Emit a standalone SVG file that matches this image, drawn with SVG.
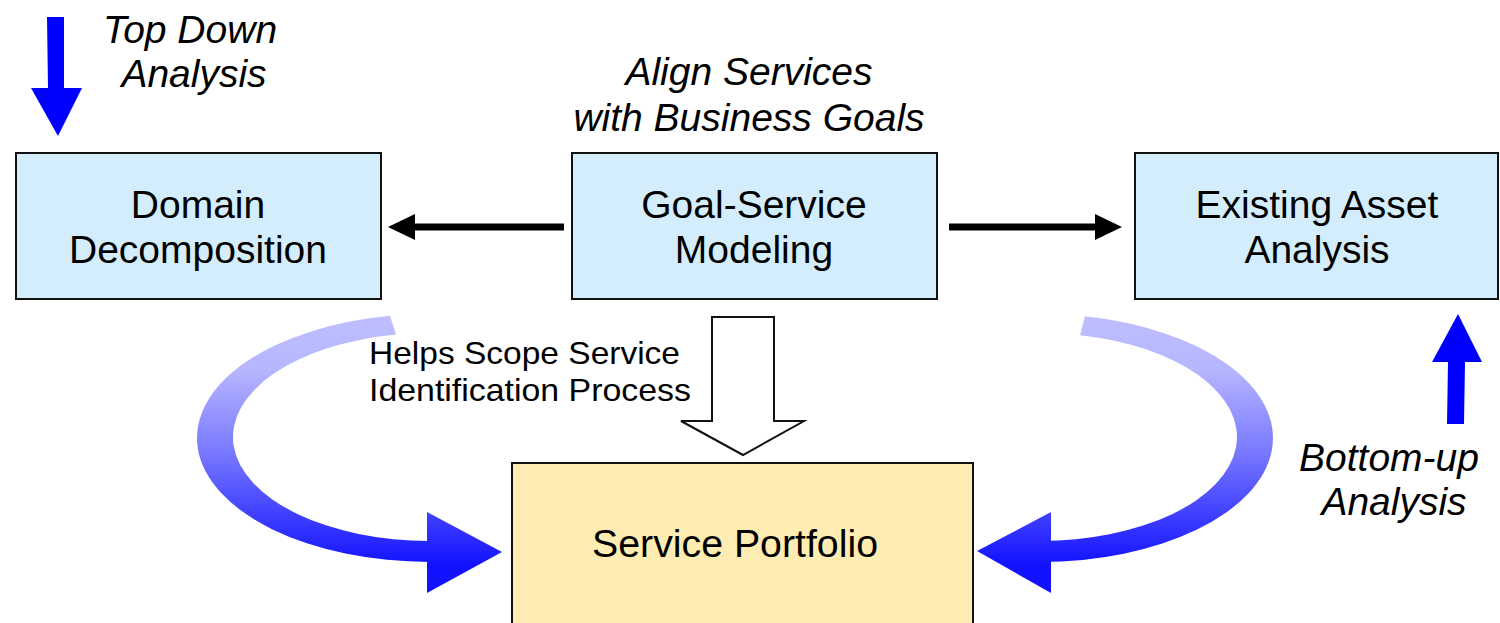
<svg xmlns="http://www.w3.org/2000/svg" width="1500" height="623" viewBox="0 0 1500 623">
  <style>
    .box { fill: #D3EDFD; stroke: #111; stroke-width: 2; }
    .portfolio { fill: #FEECB3; stroke: #111; stroke-width: 2; }
    .label { font-family: "Liberation Sans", Arial, sans-serif; font-size: 39px; fill: #000; text-anchor: middle; }
    .note { font-family: "Liberation Sans", Arial, sans-serif; font-size: 39px; font-style: italic; fill: #000; text-anchor: middle; }
    .small { font-family: "Liberation Sans", Arial, sans-serif; font-size: 32px; fill: #000; }
    .flow { fill: #000; }
    .solid-blue { fill: #0000FF; }
    .hollow { fill: #FFF; stroke: #111; stroke-width: 2; stroke-linejoin: miter; }
  </style>
  <defs>
    <linearGradient id="swirl" gradientUnits="userSpaceOnUse" x1="0" y1="315" x2="0" y2="565">
      <stop offset="0" stop-color="#BEBEFF"/>
      <stop offset="0.22" stop-color="#B6B6FF"/>
      <stop offset="0.55" stop-color="#7878FF"/>
      <stop offset="1" stop-color="#1212FF"/>
    </linearGradient>
  </defs>

  <rect width="1500" height="623" fill="#FFF"/>

  <!-- nodes -->
  <g id="domain-decomposition">
    <rect class="box" x="16" y="153" width="365" height="146"/>
    <text class="label" x="198" y="218">Domain</text>
    <text class="label" x="198" y="263">Decomposition</text>
  </g>
  <g id="goal-service-modeling">
    <rect class="box" x="572" y="153" width="365" height="146"/>
    <text class="label" x="754" y="218">Goal-Service</text>
    <text class="label" x="754" y="263">Modeling</text>
  </g>
  <g id="existing-asset-analysis">
    <rect class="box" x="1135" y="153" width="363" height="146"/>
    <text class="label" x="1317" y="218">Existing Asset</text>
    <text class="label" x="1317" y="263">Analysis</text>
  </g>
  <g id="service-portfolio">
    <rect class="portfolio" x="512" y="463" width="461" height="175"/>
    <text class="label" x="735" y="557" style="font-size:38px" textLength="286" lengthAdjust="spacingAndGlyphs">Service Portfolio</text>
  </g>

  <!-- side notes -->
  <g id="top-down-note">
    <text class="note" x="190" y="43">Top Down</text>
    <text class="note" x="194" y="87">Analysis</text>
  </g>
  <g id="align-note">
    <text class="note" x="749" y="85">Align Services</text>
    <text class="note" x="749" y="131">with Business Goals</text>
  </g>
  <g id="bottom-up-note">
    <text class="note" x="1389" y="471">Bottom-up</text>
    <text class="note" x="1394" y="515">Analysis</text>
  </g>
  <g id="scope-note">
    <text class="small" x="369" y="364" textLength="311" lengthAdjust="spacingAndGlyphs">Helps Scope Service</text>
    <text class="small" x="369" y="401" textLength="322" lengthAdjust="spacingAndGlyphs">Identification Process</text>
  </g>

  <!-- connectors -->
  <g id="connectors">
    <!-- goal modeling to domain decomposition -->
    <rect class="flow" x="412" y="223.5" width="152" height="7"/>
    <polygon class="flow" points="388,227 415,214 415,240"/>
    <!-- goal modeling to existing asset analysis -->
    <rect class="flow" x="949" y="223.5" width="149" height="7"/>
    <polygon class="flow" points="1122,227 1095,214 1095,240"/>
    <!-- scope arrow into the portfolio -->
    <polygon class="hollow" points="712,317 774,317 774,421 804,421 743,455 681,421 712,421"/>
    <!-- top-down direction -->
    <polygon class="solid-blue" points="47,17 64,17 64,88 82,88 58,136 31,88 48,88"/>
    <!-- bottom-up direction -->
    <polygon class="solid-blue" points="1447,424 1464,424 1465,362 1482,362 1458,314 1432,362 1448,362"/>
    <!-- domain decomposition sweep into the portfolio -->
    <path fill="url(#swirl)" d="M 390 315.84 A 233 124 0 0 0 430 562 L 432 562 L 432 541 L 430 541 A 197 104 0 0 1 396 334.56 Z"/>
    <polygon fill="url(#swirl)" points="427,512 502,552 427,593"/>
    <!-- existing asset sweep into the portfolio -->
    <path fill="url(#swirl)" d="M 1085 316.34 A 233 124 0 0 1 1040 562 L 1048 562 L 1048 541 L 1040 541 A 197 104 0 0 0 1080 335.17 Z"/>
    <polygon fill="url(#swirl)" points="1051,512 977,551 1051,593"/>
  </g>
</svg>
